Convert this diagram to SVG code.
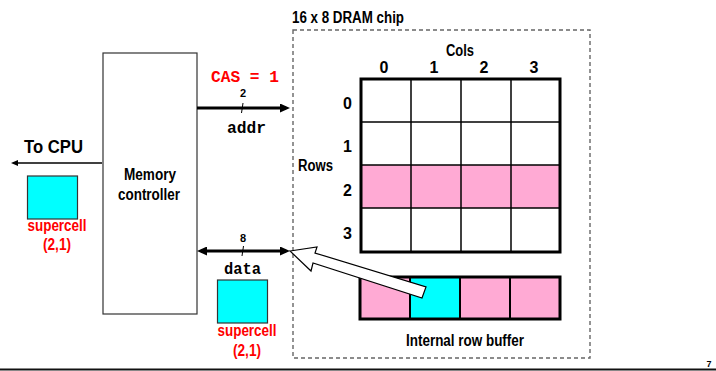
<svg xmlns="http://www.w3.org/2000/svg" width="716" height="371" viewBox="0 0 716 371">
<style>
.t{font-family:"Liberation Sans Narrow","Liberation Sans",Arial,sans-serif;font-weight:bold;fill:#000}
.red{fill:#f00}
.mono{font-family:"Liberation Mono","Courier New",monospace;font-weight:bold;font-size:16px}
.thin{stroke:#333;stroke-width:1.2;fill:#fff}
.pink{fill:#ffaad4}
.cyan{fill:#00ffff}
.bus{stroke:#000;stroke-width:3;fill:none}
</style>
<defs>
<marker id="ah" markerWidth="10" markerHeight="9" refX="6" refY="4.5" orient="auto-start-reverse" markerUnits="userSpaceOnUse">
<path d="M0,0 L10,4.5 L0,9 z" fill="#000"/>
</marker>
<marker id="ahs" markerWidth="7" markerHeight="6" refX="1" refY="3" orient="auto" markerUnits="userSpaceOnUse">
<path d="M0,0 L7,3 L0,6 z" fill="#000"/>
</marker>
</defs>
<rect width="716" height="371" fill="#fff"/>

<g id="dram-chip">
<rect x="293" y="30" width="297" height="328" fill="none" stroke="#666" stroke-width="1.4" stroke-dasharray="4,3"/>
<text class="t" x="292" y="22.5" font-size="16" textLength="112" lengthAdjust="spacingAndGlyphs">16 x 8 DRAM chip</text>
</g>

<g id="memory-controller">
<rect class="thin" x="103" y="53" width="94" height="261"/>
<text class="t" x="150" y="179.5" font-size="16" text-anchor="middle" textLength="52" lengthAdjust="spacingAndGlyphs">Memory</text>
<text class="t" x="149" y="200" font-size="16" text-anchor="middle" textLength="62" lengthAdjust="spacingAndGlyphs">controller</text>
</g>

<g id="dram-array">
<rect class="pink" x="361" y="165" width="199" height="43"/>
<g stroke="#000" stroke-width="1.5">
<line x1="361" y1="122" x2="560" y2="122"/>
<line x1="361" y1="165" x2="560" y2="165"/>
<line x1="361" y1="208" x2="560" y2="208"/>
<line x1="411" y1="79" x2="411" y2="252"/>
<line x1="461" y1="79" x2="461" y2="252"/>
<line x1="511" y1="79" x2="511" y2="252"/>
</g>
<rect x="361" y="79" width="199" height="173" fill="none" stroke="#000" stroke-width="3"/>
<text class="t" x="460" y="56" font-size="16" text-anchor="middle" textLength="28" lengthAdjust="spacingAndGlyphs">Cols</text>
<g class="t" font-size="16" text-anchor="middle">
<text x="384" y="72.5">0</text>
<text x="434" y="72.5">1</text>
<text x="484" y="72.5">2</text>
<text x="534" y="72.5">3</text>
<text x="347.5" y="108.5">0</text>
<text x="347.5" y="152">1</text>
<text x="347.5" y="195.5">2</text>
<text x="347.5" y="239">3</text>
</g>
<text class="t" x="298" y="170.5" font-size="16" textLength="35" lengthAdjust="spacingAndGlyphs">Rows</text>
</g>

<g id="row-buffer">
<rect class="pink" x="360" y="277" width="50" height="42"/>
<rect class="cyan" x="410" y="277" width="50" height="42"/>
<rect class="pink" x="460" y="277" width="100" height="42"/>
<g stroke="#000" stroke-width="2">
<line x1="410" y1="277" x2="410" y2="319"/>
<line x1="460" y1="277" x2="460" y2="319"/>
<line x1="510" y1="277" x2="510" y2="319"/>
</g>
<rect x="360" y="277" width="200" height="42" fill="none" stroke="#000" stroke-width="3"/>
<text class="t" x="465" y="345.5" font-size="16" text-anchor="middle" textLength="118" lengthAdjust="spacingAndGlyphs">Internal row buffer</text>
</g>

<g id="supercell-cpu">
<rect class="cyan" x="27.5" y="176" width="50" height="43" stroke="#333" stroke-width="1.2"/>
<text class="t red" x="57" y="230.5" font-size="16" text-anchor="middle" textLength="59" lengthAdjust="spacingAndGlyphs">supercell</text>
<text class="t red" x="57" y="249.5" font-size="16" text-anchor="middle" textLength="28" lengthAdjust="spacingAndGlyphs">(2,1)</text>
</g>

<g id="supercell-data">
<rect class="cyan" x="217.5" y="280" width="50" height="43" stroke="#333" stroke-width="1.2"/>
<text class="t red" x="247" y="335.5" font-size="16" text-anchor="middle" textLength="59" lengthAdjust="spacingAndGlyphs">supercell</text>
<text class="t red" x="247" y="356" font-size="16" text-anchor="middle" textLength="28" lengthAdjust="spacingAndGlyphs">(2,1)</text>
</g>

<g id="connectors">
<line class="bus" x1="197" y1="108" x2="286" y2="108" marker-end="url(#ah)"/>
<line x1="243" y1="103" x2="241.5" y2="113" stroke="#000" stroke-width="1"/>
<text class="t" x="243" y="97" font-size="11" text-anchor="middle">2</text>
<text class="mono red" x="211" y="82" textLength="68" lengthAdjust="spacingAndGlyphs">CAS = 1</text>
<text class="mono" x="227" y="133" textLength="39" lengthAdjust="spacingAndGlyphs">addr</text>

<line class="bus" x1="201" y1="251" x2="286" y2="251" marker-start="url(#ah)" marker-end="url(#ah)"/>
<line x1="243.5" y1="246" x2="242" y2="256" stroke="#000" stroke-width="1"/>
<text class="t" x="243" y="242" font-size="11" text-anchor="middle">8</text>
<text class="mono" x="224" y="273.5" textLength="37" lengthAdjust="spacingAndGlyphs">data</text>

<line x1="102" y1="163" x2="17" y2="163" stroke="#000" stroke-width="1.5" marker-end="url(#ahs)"/>
<text class="t" x="24" y="153" font-size="19" textLength="59" lengthAdjust="spacingAndGlyphs">To CPU</text>

<polygon points="290,251 317,247 315,253 426,287 422,298 313,263 311,271" fill="#fff" stroke="#000" stroke-width="1.2" stroke-linejoin="miter"/>
</g>

<g id="footer">
<line x1="0" y1="369.5" x2="716" y2="369.5" stroke="#111" stroke-width="2"/>
<text class="t" x="709" y="367" font-size="9" text-anchor="middle">7</text>
</g>
</svg>
